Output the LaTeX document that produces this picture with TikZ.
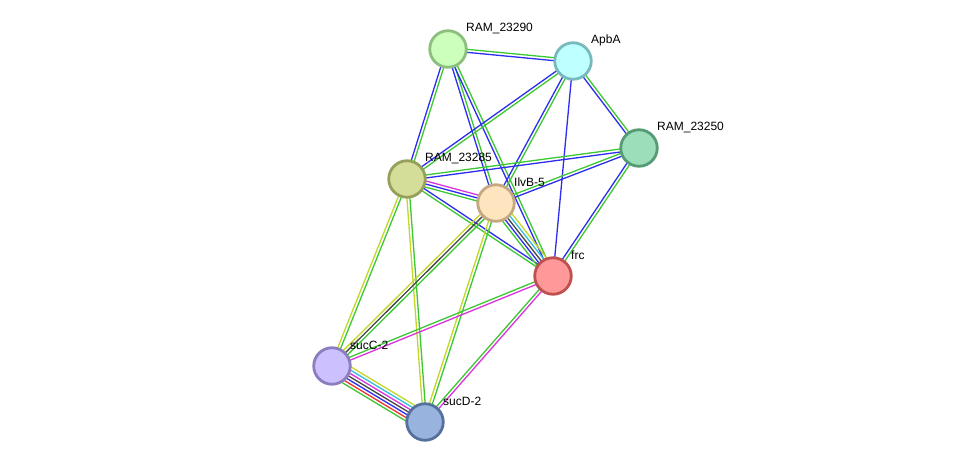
\documentclass[tikz,border=0pt]{standalone}
\usepackage{fontspec}
\setmainfont{Liberation Sans}
\usetikzlibrary{calc,backgrounds}
\definecolor{eg}{RGB}{60,200,50}
\definecolor{eb}{RGB}{45,45,240}
\definecolor{em}{RGB}{220,50,220}
\definecolor{ey}{RGB}{195,215,40}
\definecolor{ec}{RGB}{50,190,220}
\definecolor{ek}{RGB}{70,70,70}
\definecolor{er}{RGB}{240,50,50}
\newcommand{\bundle}[4]{%
  \foreach \c [count=\i] in {#4} {
    \pgfmathsetmacro\off{(\i-(#3+1)/2)*3}
    \draw[color=\c, line width=1.3pt] ($(#1.center)!\off pt!90:(#2.center)$) -- ($(#2.center)!\off pt!-90:(#1.center)$);
  }}
\tikzset{
  prot/.style={circle, minimum size=36.5pt, line width=2.8pt, inner sep=0pt},
  lab/.style={font=\fontsize{12}{14}\selectfont, anchor=base west, inner sep=0pt}
}
\begin{document}
\begin{tikzpicture}[x=1pt,y=-1pt]
\useasboundingbox (0,0) rectangle (975,468);
\node[prot, fill={rgb,255:red,204;green,255;blue,187}, draw={rgb,255:red,140;green,190;blue,125}] (r290) at (448,49) {};
\node[prot, fill={rgb,255:red,190;green,255;blue,255}, draw={rgb,255:red,120;green,185;blue,190}] (apba) at (573,61) {};
\node[prot, fill={rgb,255:red,155;green,222;blue,185}, draw={rgb,255:red,85;green,155;blue,115}] (r250) at (639,148) {};
\node[prot, fill={rgb,255:red,212;green,222;blue,152}, draw={rgb,255:red,150;green,160;blue,90}] (r285) at (407,179) {};
\node[prot, fill={rgb,255:red,255;green,228;blue,192}, draw={rgb,255:red,195;green,168;blue,130}] (ilvb) at (496,203) {};
\node[prot, fill={rgb,255:red,255;green,152;blue,152}, draw={rgb,255:red,190;green,80;blue,80}] (frc) at (553,276) {};
\node[prot, fill={rgb,255:red,205;green,192;blue,255}, draw={rgb,255:red,140;green,125;blue,190}] (succ) at (332,366) {};
\node[prot, fill={rgb,255:red,152;green,180;blue,222}, draw={rgb,255:red,85;green,112;blue,155}] (sucd) at (425,422) {};
\node[lab] (l290) at (466,32) {RAM\_23290};
\node[lab] (lapb) at (591,44) {ApbA};
\node[lab] (l250) at (657,131) {RAM\_23250};
\node[lab] (l285) at (425,162) {RAM\_23285};
\node[lab] (lilv) at (514,186) {IlvB-5};
\node[lab] (lfrc) at (571,259) {frc};
\node[lab] (lsc) at (350,349) {sucC-2};
\node[lab] (lsd) at (443,405) {sucD-2};
\begin{pgfonlayer}{background}
\fill[white] (0,0) rectangle (975,468);
\bundle{r290}{apba}{2}{eb,eg}
\bundle{r290}{r285}{2}{eb,eg}
\bundle{r290}{ilvb}{2}{eb,eg}
\bundle{r290}{frc}{2}{eb,eg}
\bundle{apba}{r285}{2}{eb,eg}
\bundle{apba}{ilvb}{2}{eb,eg}
\bundle{apba}{frc}{1}{eb}
\bundle{apba}{r250}{2}{eb,eg}
\bundle{r250}{r285}{2}{eg,eb}
\bundle{r250}{ilvb}{2}{eg,eb}
\bundle{r250}{frc}{2}{eb,eg}
\bundle{r285}{ilvb}{3}{eg,eb,em}
\bundle{r285}{frc}{2}{eg,eb}
\bundle{r285}{succ}{2}{ey,eg}
\bundle{r285}{sucd}{2}{ey,eg}
\bundle{ilvb}{frc}{5}{eg,eb,ek,ec,ey}
\bundle{ilvb}{succ}{3}{ey,ek,eg}
\bundle{ilvb}{sucd}{2}{ey,eg}
\bundle{frc}{succ}{2}{eg,em}
\bundle{frc}{sucd}{2}{eg,em}
\bundle{succ}{sucd}{7}{eg,er,eb,ek,em,ec,ey}
\end{pgfonlayer}
\end{tikzpicture}
\end{document}
